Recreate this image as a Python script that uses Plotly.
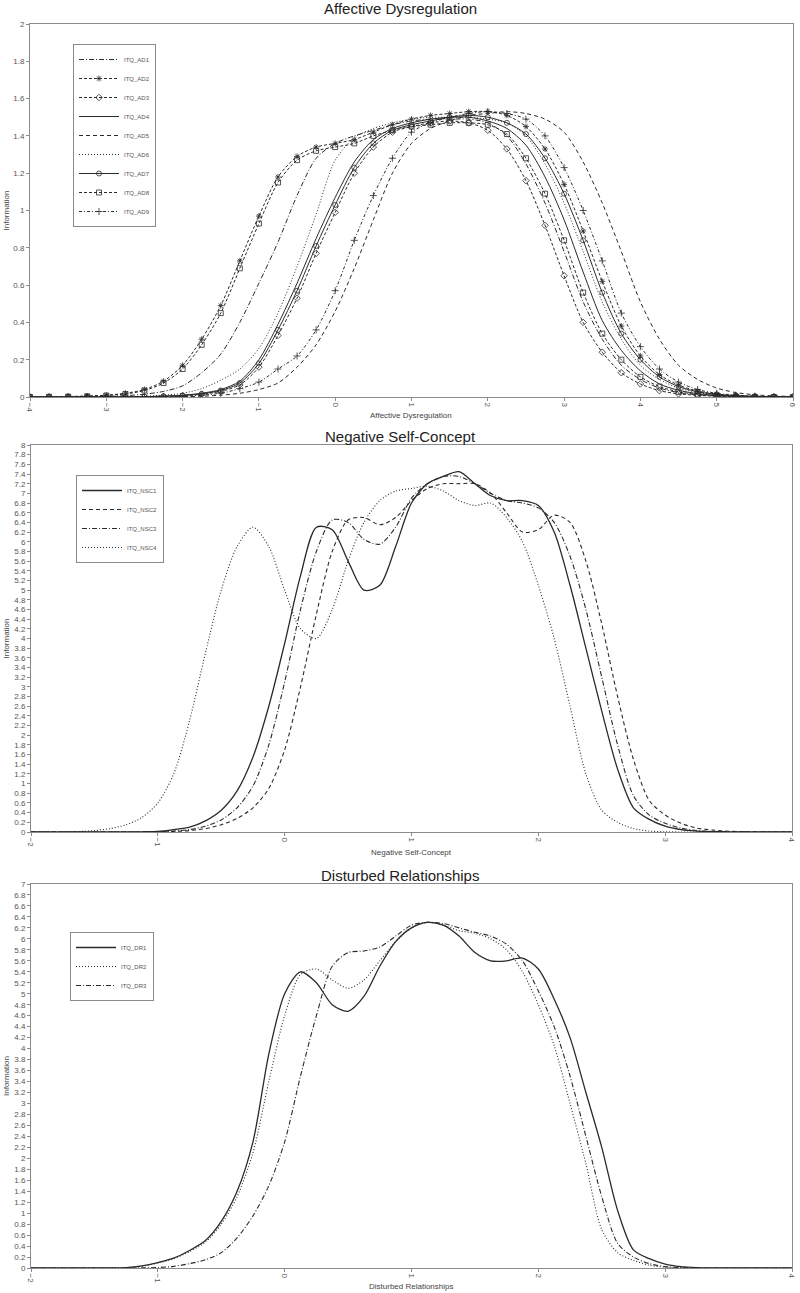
import plotly.graph_objects as go

# ---------------- data: Affective Dysregulation ----------------
ad_theta = [-4.0, -3.75, -3.5, -3.25, -3.0, -2.75, -2.5, -2.25, -2.0, -1.75, -1.5, -1.25, -1.0, -0.75,
            -0.5, -0.25, 0.0, 0.25, 0.5, 0.75, 1.0, 1.25, 1.5, 1.75, 2.0, 2.25, 2.5, 2.75, 3.0, 3.25,
            3.5, 3.75, 4.0, 4.25, 4.5, 4.75, 5.0, 5.25, 5.5, 5.75, 6.0]
AD1 = [0, 0, 0.001, 0.002, 0.003, 0.007, 0.015, 0.03, 0.06, 0.13, 0.23, 0.40, 0.61, 0.83, 1.08, 1.28,
       1.36, 1.40, 1.43, 1.46, 1.48, 1.49, 1.49, 1.49, 1.47, 1.40, 1.25, 1.04, 0.78, 0.51, 0.31, 0.17,
       0.094, 0.048, 0.024, 0.012, 0.006, 0.003, 0.001, 0, 0]
AD2 = [0, 0.001, 0.003, 0.005, 0.01, 0.02, 0.04, 0.085, 0.17, 0.31, 0.49, 0.73, 0.97, 1.18, 1.29, 1.34,
       1.36, 1.38, 1.42, 1.46, 1.49, 1.51, 1.52, 1.53, 1.53, 1.51, 1.45, 1.33, 1.14, 0.89, 0.62, 0.38,
       0.22, 0.12, 0.064, 0.032, 0.016, 0.008, 0.004, 0.002, 0.001]
AD3 = [0, 0, 0, 0, 0, 0, 0.001, 0.003, 0.007, 0.015, 0.03, 0.065, 0.16, 0.33, 0.53, 0.77, 0.99, 1.20,
       1.34, 1.42, 1.45, 1.47, 1.48, 1.47, 1.43, 1.33, 1.16, 0.92, 0.65, 0.40, 0.24, 0.13, 0.07, 0.034,
       0.017, 0.009, 0.004, 0.002, 0, 0, 0]
AD4 = [0, 0, 0, 0, 0, 0, 0.002, 0.005, 0.01, 0.02, 0.04, 0.085, 0.20, 0.39, 0.61, 0.85, 1.07, 1.26,
       1.38, 1.44, 1.47, 1.49, 1.50, 1.50, 1.48, 1.44, 1.35, 1.18, 0.95, 0.67, 0.41, 0.25, 0.14, 0.07,
       0.036, 0.018, 0.009, 0.004, 0.002, 0.001, 0]
AD5 = [0, 0, 0, 0, 0, 0, 0, 0, 0.002, 0.004, 0.01, 0.02, 0.04, 0.075, 0.16, 0.28, 0.46, 0.69, 0.95,
       1.20, 1.36, 1.44, 1.48, 1.51, 1.52, 1.53, 1.52, 1.49, 1.42, 1.26, 1.04, 0.78, 0.51, 0.31, 0.17,
       0.094, 0.048, 0.024, 0.012, 0.006, 0.003]
AD6 = [0, 0, 0, 0, 0, 0.002, 0.004, 0.01, 0.02, 0.045, 0.09, 0.15, 0.26, 0.45, 0.70, 0.98, 1.27, 1.39,
       1.44, 1.47, 1.49, 1.50, 1.50, 1.50, 1.49, 1.47, 1.40, 1.25, 1.04, 0.78, 0.51, 0.31, 0.17, 0.094,
       0.048, 0.024, 0.012, 0.006, 0.003, 0.001, 0]
AD7 = [0, 0, 0, 0, 0, 0, 0.002, 0.004, 0.008, 0.017, 0.035, 0.075, 0.18, 0.36, 0.57, 0.81, 1.03, 1.23,
       1.36, 1.43, 1.46, 1.48, 1.50, 1.51, 1.50, 1.47, 1.41, 1.28, 1.09, 0.84, 0.56, 0.34, 0.20, 0.108,
       0.056, 0.028, 0.014, 0.007, 0.003, 0.001, 0]
AD8 = [0, 0.001, 0.002, 0.004, 0.008, 0.016, 0.035, 0.075, 0.15, 0.28, 0.45, 0.69, 0.93, 1.15, 1.27,
       1.32, 1.34, 1.36, 1.40, 1.43, 1.45, 1.46, 1.47, 1.47, 1.46, 1.41, 1.28, 1.09, 0.84, 0.56, 0.34,
       0.20, 0.108, 0.056, 0.028, 0.014, 0.007, 0.003, 0.001, 0, 0]
AD9 = [0, 0, 0, 0, 0, 0, 0, 0, 0.003, 0.01, 0.02, 0.045, 0.08, 0.15, 0.22, 0.36, 0.57, 0.84, 1.08,
       1.28, 1.42, 1.47, 1.50, 1.52, 1.53, 1.52, 1.49, 1.40, 1.23, 1.00, 0.73, 0.45, 0.27, 0.15, 0.08,
       0.04, 0.02, 0.01, 0.005, 0.002, 0.001]
ad_names = ["ITQ_AD1", "ITQ_AD2", "ITQ_AD3", "ITQ_AD4", "ITQ_AD5", "ITQ_AD6", "ITQ_AD7", "ITQ_AD8", "ITQ_AD9"]

# ---------------- data: Negative Self-Concept ----------------
nsc_theta = [-2.0, -1.875, -1.75, -1.625, -1.5, -1.375, -1.25, -1.125, -1.0, -0.875, -0.75, -0.625,
             -0.5, -0.375, -0.25, -0.125, 0.0, 0.125, 0.25, 0.375, 0.5, 0.625, 0.75, 0.875, 1.0, 1.125,
             1.25, 1.375, 1.5, 1.625, 1.75, 1.875, 2.0, 2.125, 2.25, 2.375, 2.5, 2.625, 2.75, 2.875,
             3.0, 3.125, 3.25, 3.375, 3.5, 3.625, 3.75, 3.875, 4.0]
NSC1 = [0, 0, 0, 0, 0, 0, 0.001, 0.004, 0.012, 0.05, 0.10, 0.23, 0.45, 0.85, 1.55, 2.6, 3.9, 5.3, 6.3,
        6.25, 5.6, 5.0, 5.1, 5.9, 6.8, 7.2, 7.35, 7.45, 7.2, 6.95, 6.85, 6.85, 6.75, 6.2, 5.1, 3.8, 2.5,
        1.3, 0.5, 0.26, 0.12, 0.05, 0.02, 0.008, 0.003, 0.001, 0, 0, 0]
NSC2 = [0, 0, 0, 0, 0, 0, 0, 0.001, 0.003, 0.01, 0.03, 0.07, 0.15, 0.28, 0.5, 0.9, 1.7, 3.0, 4.5, 5.8,
        6.45, 6.5, 6.35, 6.5, 6.85, 7.1, 7.2, 7.2, 7.2, 7.0, 6.6, 6.2, 6.25, 6.55, 6.4, 5.6, 4.3, 2.8,
        1.5, 0.65, 0.35, 0.18, 0.08, 0.04, 0.015, 0.006, 0.002, 0, 0]
NSC3 = [0, 0, 0, 0, 0, 0, 0, 0.001, 0.005, 0.02, 0.05, 0.12, 0.25, 0.5, 0.95, 1.8, 3.1, 4.6, 5.8, 6.45,
        6.4, 6.05, 5.95, 6.3, 6.9, 7.2, 7.35, 7.35, 7.2, 7.0, 6.85, 6.8, 6.7, 6.4, 5.7, 4.6, 3.2, 1.8,
        0.75, 0.35, 0.18, 0.08, 0.03, 0.012, 0.005, 0.002, 0, 0, 0]
NSC4 = [0, 0, 0.002, 0.01, 0.03, 0.07, 0.15, 0.3, 0.6, 1.2, 2.3, 3.7, 5.0, 5.9, 6.3, 5.9, 5.0, 4.2, 4.0,
        4.6, 5.6, 6.4, 6.85, 7.05, 7.1, 7.15, 7.05, 6.85, 6.75, 6.8, 6.5, 6.0, 5.1, 4.0, 2.6, 1.2, 0.45,
        0.2, 0.07, 0.02, 0.005, 0.001, 0, 0, 0, 0, 0, 0, 0]
nsc_names = ["ITQ_NSC1", "ITQ_NSC2", "ITQ_NSC3", "ITQ_NSC4"]

# ---------------- data: Disturbed Relationships ----------------
dr_theta = [-2.0, -1.875, -1.75, -1.625, -1.5, -1.375, -1.25, -1.125, -1.0, -0.875, -0.75, -0.625,
            -0.5, -0.375, -0.25, -0.125, 0.0, 0.125, 0.25, 0.375, 0.5, 0.625, 0.75, 0.875, 1.0, 1.125,
            1.25, 1.375, 1.5, 1.625, 1.75, 1.875, 2.0, 2.125, 2.25, 2.375, 2.5, 2.625, 2.75, 2.875,
            3.0, 3.125, 3.25, 3.375, 3.5, 3.625, 3.75, 3.875, 4.0]
DR1 = [0, 0, 0, 0, 0, 0.002, 0.008, 0.04, 0.1, 0.18, 0.32, 0.5, 0.85, 1.4, 2.3, 3.9, 5.0, 5.4, 5.2, 4.8,
       4.68, 4.95, 5.5, 5.95, 6.2, 6.3, 6.25, 6.05, 5.75, 5.6, 5.6, 5.65, 5.45, 4.9, 4.2, 3.2, 2.2, 1.05,
       0.33, 0.17, 0.07, 0.025, 0.008, 0.002, 0, 0, 0, 0, 0]
DR2 = [0, 0, 0, 0, 0, 0.002, 0.008, 0.035, 0.09, 0.17, 0.3, 0.47, 0.8, 1.3, 2.1, 3.4, 4.6, 5.35, 5.45,
       5.25, 5.1, 5.25, 5.6, 5.95, 6.2, 6.3, 6.25, 6.15, 6.1, 6.0, 5.8, 5.4, 4.8, 4.05, 3.0, 1.9, 0.7,
       0.28, 0.14, 0.05, 0.015, 0.004, 0, 0, 0, 0, 0, 0, 0]
DR3 = [0, 0, 0, 0, 0, 0, 0, 0.002, 0.008, 0.03, 0.08, 0.15, 0.28, 0.55, 0.95, 1.5, 2.3, 3.5, 4.6, 5.5,
       5.75, 5.78, 5.85, 6.05, 6.25, 6.3, 6.28, 6.2, 6.12, 6.05, 5.9, 5.6, 5.05, 4.4, 3.5, 2.4, 1.3,
       0.45, 0.2, 0.08, 0.025, 0.008, 0.002, 0, 0, 0, 0, 0, 0]
dr_names = ["ITQ_DR1", "ITQ_DR2", "ITQ_DR3"]

panel_titles = ["Affective Dysregulation", "Negative Self-Concept", "Disturbed Relationships"]

# ---------------- styles ----------------
INK = "#2a2a2a"
FONT = "Arial, Liberation Sans, sans-serif"
ad_styles = [
    dict(dash="5px,2px,1px,2px", symbol=None),
    dict(dash="3px,2px", symbol="asterisk-open"),
    dict(dash="3px,2px", symbol="diamond-open"),
    dict(dash="solid", symbol=None),
    dict(dash="4px,3px", symbol=None),
    dict(dash="1px,2px", symbol=None),
    dict(dash="solid", symbol="circle-open"),
    dict(dash="3px,2px", symbol="square-open"),
    dict(dash="3px,2px,1px,2px", symbol="cross-thin-open"),
]
nsc_dash = ["solid", "4px,3px", "5px,2px,1px,2px", "1px,2px"]
dr_dash = ["solid", "1px,2px", "5px,2px,1px,2px"]

fig = go.Figure()


def add_line(x, y, name, dash, xa, ya, legend, symbol=None, width=1.0):
    mode = "lines+markers" if symbol else "lines"
    tr = go.Scatter(
        x=x, y=y, name=name, mode=mode, xaxis=xa, yaxis=ya, legend=legend,
        line=dict(color=INK, width=width, dash=dash, shape="spline", smoothing=0.8),
        hoverinfo="x+y+name",
    )
    if symbol:
        tr.marker = dict(symbol=symbol, size=5, color=INK, line=dict(color=INK, width=0.8))
    fig.add_trace(tr)


for yv, nm, st in zip([AD1, AD2, AD3, AD4, AD5, AD6, AD7, AD8, AD9], ad_names, ad_styles):
    add_line(ad_theta, yv, nm, st["dash"], "x", "y", "legend", st["symbol"])
for yv, nm, ds in zip([NSC1, NSC2, NSC3, NSC4], nsc_names, nsc_dash):
    add_line(nsc_theta, yv, nm, ds, "x2", "y2", "legend2", None, 1.3 if ds == "solid" else 1.1)
for yv, nm, ds in zip([DR1, DR2, DR3], dr_names, dr_dash):
    add_line(dr_theta, yv, nm, ds, "x3", "y3", "legend3", None, 1.3 if ds == "solid" else 1.1)

H = 1293.0
W = 800.0


def py(px):
    return 1 - px / H


def px_(p):
    return p / W


axis_common = dict(showline=True, mirror=True, linecolor="#8a8a8a", linewidth=1, showgrid=False,
                   zeroline=False, ticks="outside", ticklen=3, tickcolor="#8a8a8a", automargin=False,
                   tickfont=dict(family=FONT, size=8, color="#555"))

panels = [
    dict(xr=[-4, 6], yr=[0, 2], xd=[30, 793], yd=[24, 397]),
    dict(xr=[-2, 4], yr=[0, 8], xd=[31, 792], yd=[445, 832]),
    dict(xr=[-2, 4], yr=[0, 7], xd=[31, 792], yd=[884, 1268]),
]
layout = dict(width=800, height=1293, margin=dict(l=0, r=0, t=0, b=0, autoexpand=False), showlegend=True,
              paper_bgcolor="white", plot_bgcolor="white", font=dict(family=FONT, color=INK))
for i, p in enumerate(panels):
    sfx = "" if i == 0 else str(i + 1)
    layout["xaxis" + sfx] = dict(axis_common, range=p["xr"], dtick=1, tickangle=90,
                                 domain=[px_(p["xd"][0]), px_(p["xd"][1])],
                                 anchor="y" + sfx)
    layout["yaxis" + sfx] = dict(axis_common, range=p["yr"], dtick=0.2,
                                 domain=[py(p["yd"][1]), py(p["yd"][0])],
                                 anchor="x" + sfx)

leg_common = dict(bgcolor="white", bordercolor="#8a8a8a", borderwidth=1, xanchor="left", yanchor="top",
                  font=dict(family=FONT, size=6, color="#555"), tracegroupgap=0, itemwidth=40,
                  entrywidth=84, entrywidthmode="pixels")
layout["legend"] = dict(leg_common, x=px_(73), y=py(44))
layout["legend2"] = dict(leg_common, x=px_(76), y=py(475))
layout["legend3"] = dict(leg_common, x=px_(70), y=py(932))
fig.update_layout(**layout)

ann = []
title_y = [9, 436, 875]
xtitle_y = [415, 852, 1286]
for i in range(3):
    ann.append(dict(text=panel_titles[i], x=0.5, y=py(title_y[i]), xref="paper", yref="paper",
                    showarrow=False, font=dict(family=FONT, size=15, color="#222"),
                    xanchor="center", yanchor="middle"))
    ann.append(dict(text=panel_titles[i], x=px_(411), y=py(xtitle_y[i]), xref="paper", yref="paper",
                    showarrow=False, font=dict(family=FONT, size=8, color="#444"),
                    xanchor="center", yanchor="middle"))
    mid = (panels[i]["yd"][0] + panels[i]["yd"][1]) / 2
    ann.append(dict(text="Information", x=px_(6), y=py(mid), xref="paper", yref="paper",
                    showarrow=False, textangle=-90, font=dict(family=FONT, size=8, color="#444"),
                    xanchor="center", yanchor="middle"))
fig.update_layout(annotations=ann)

fig.write_html("out.html", config={"displayModeBar": False},
               post_script="document.body.style.margin='0';document.body.style.overflow='hidden';")
